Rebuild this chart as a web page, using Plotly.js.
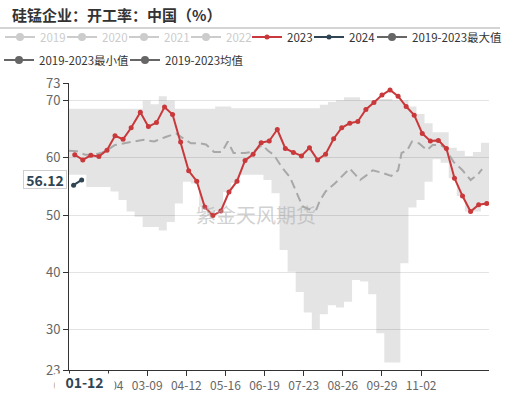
<!DOCTYPE html>
<html>
<head>
<meta charset="utf-8">
<script src="https://cdn.plot.ly/plotly-3.0.1.min.js"></script>
<style>html,body{margin:0;padding:0;background:#fff;}#chart{width:516px;height:395px;}</style>
</head>
<body>
<div id="chart"></div>
<script>
// ---- data ----
const tickLabels = ['01-01','02-04','03-09','04-12','05-16','06-19','07-23','08-26','09-29','11-02'];
const hiddenYears = ['2019','2020','2021','2022'];

const dates2023 = ['01-06','01-13','01-20','01-27','02-03','02-10','02-17','02-24','03-03','03-10','03-17','03-24','03-31',
  '04-07','04-14','04-21','04-28','05-05','05-12','05-19','05-26','06-02','06-09','06-16','06-23','06-30',
  '07-07','07-14','07-21','07-28','08-04','08-11','08-18','08-25','09-01','09-08','09-15','09-22','09-29',
  '10-06','10-13','10-20','10-27','11-03','11-10','11-17','11-24','12-01','12-08','12-15','12-22','12-29'];
const vals2023 = [60.5,59.6,60.4,60.2,61.3,63.8,63.2,65.2,67.9,65.4,66.1,68.8,67.5,62.7,57.7,55.9,51.4,49.9,50.7,54.0,
  55.9,59.5,60.6,62.6,62.9,64.9,61.6,60.9,60.3,61.7,59.6,60.6,63.3,65.2,66.0,66.3,68.4,69.6,70.9,71.8,
  70.7,68.9,67.4,64.2,62.9,63.0,61.6,56.4,53.3,50.6,51.8,52.0];

const dates2024 = ['01-05','01-12'];
const vals2024 = [55.2,56.12];

const bandDates = ['01-01','01-02','01-09','01-16','01-23','01-30','02-06','02-13','02-20','02-27','03-05','03-12','03-19','03-26',
  '04-02','04-09','04-16','04-23','04-30','05-07','05-14','05-21','05-28','06-04','06-11','06-18','06-25',
  '07-02','07-09','07-16','07-23','07-30','08-06','08-13','08-20','08-27','09-03','09-10','09-17','09-24',
  '10-01','10-08','10-15','10-22','10-29','11-05','11-12','11-19','11-26','12-03','12-10','12-17','12-24','12-31'];
const maxVals = [68.5,68.5,68.5,68.5,68.5,68.5,68.5,68.5,68.5,68.5,69.9,69.3,70.7,69.9,68.5,68.5,68.5,68.5,68.5,
  68.9,68.9,68.6,68.6,68.6,68.6,68.6,68.6,68.6,68.6,68.6,68.6,68.6,69.2,69.7,70.0,70.5,70.5,70.0,70.0,70.2,70.2,70.0,70.0,
  68.9,67.6,66.0,64.4,64.4,61.7,61.2,60.3,61.0,62.6,62.6];
const minVals = [57.0,57.0,57.0,54.9,54.9,54.9,54.1,52.6,50.6,49.7,47.9,47.9,47.3,48.8,52.0,55.8,55.5,51.4,49.9,50.7,
  54.0,55.6,57.0,57.0,57.0,56.1,53.8,43.9,40.1,36.6,33.0,30.1,32.7,34.3,33.9,34.9,38.7,38.4,36.2,29.4,24.3,24.3,
  41.6,51.3,52.6,55.8,59.7,59.1,56.4,53.3,50.6,50.6,51.8,51.8];

const meanDates = ['01-01','01-08','01-15','01-23','01-30','02-03','02-10','02-17','02-26','03-06','03-15','03-25','04-03',
  '04-09','04-16','04-23','04-29','05-06','05-13','05-18','05-23','06-02','06-09','06-17','06-22','06-27','07-04',
  '07-11','07-16','07-22','07-29','08-03','08-06','08-11','08-19','08-26','09-01','09-06','09-10','09-16','09-21',
  '09-30','10-07','10-13','10-16','10-21','10-25','10-31','11-07','11-12','11-19','11-23','11-30','12-08','12-15','12-21','12-25'];
const meanVals = [61.2,61.1,60.5,60.5,60.9,61.3,62.2,62.5,62.8,63.1,62.8,63.6,64.2,63.4,62.5,62.5,62.3,61.0,61.0,62.8,
  60.8,60.8,61.0,62.2,61.2,60.5,58.3,56.6,54.4,51.5,50.9,51.0,52.5,54.1,55.5,57.0,58.1,57.0,56.1,57.0,57.8,
  57.3,56.8,57.8,60.8,61.3,62.8,62.5,61.3,62.2,62.2,61.6,59.3,57.8,56.1,57.0,58.0];

const seriesNames = ['2023','2024','2019-2023最大值','2019-2023最小值','2019-2023均值'];

// ---- build ----
const toDate = s => '2024-' + s;
const FONT = '"Noto Sans CJK SC", "Noto Sans", sans-serif';
const hiddenLegends = ['legend4','legend7','legend8','legend5'];

const traces = [];
traces.push({x: bandDates.map(toDate), y: minVals, mode:'lines', line:{width:0, shape:'hv'}, showlegend:false, hoverinfo:'skip'});
traces.push({x: bandDates.map(toDate), y: maxVals, mode:'lines', line:{width:0, shape:'hv'}, fill:'tonexty',
  fillcolor:'rgba(0,0,0,0.105)', showlegend:false, hoverinfo:'skip'});
traces.push({x: meanDates.map(toDate), y: meanVals, mode:'lines', line:{color:'#a8a8a8', width:2, dash:'9px,5px'}, showlegend:false});
hiddenYears.forEach((yr, i) => traces.push({x:[null], y:[null], name:yr, mode:'lines+markers',
  legend: hiddenLegends[i], showlegend:true,
  line:{color:'#cccccc', width:2}, marker:{color:'#cccccc', size:8}}));
traces.push({x: dates2023.map(toDate), y: vals2023, name: seriesNames[0], mode:'lines+markers', legend:'legend', showlegend:true,
  line:{color:'#c9383a', width:2}, marker:{color:'#c9383a', size:5}});
traces.push({x: dates2024.map(toDate), y: vals2024, name: seriesNames[1], mode:'lines+markers', legend:'legend6', showlegend:true,
  line:{color:'#2f4554', width:2}, marker:{color:'#2f4554', size:5}});
traces.push({x:[null], y:[null], name: seriesNames[2], mode:'lines+markers', legend:'legend2', showlegend:true, line:{color:'#666', width:2}, marker:{color:'#666', size:8}});
traces.push({x:[null], y:[null], name: seriesNames[3], mode:'lines+markers', legend:'legend3', showlegend:true, line:{color:'#666', width:2}, marker:{color:'#666', size:8}});
traces.push({x:[null], y:[null], name: seriesNames[4], mode:'lines+markers', legend:'legend3', showlegend:true, line:{color:'#666', width:2}, marker:{color:'#666', size:8}});

const L = 69, R = 27, T = 83, B = 25, W = 516, H = 395;
const pw = W - L - R, ph = H - T - B;
const px = v => (v - L) / pw;
const py = v => (H - B - v) / ph;

const legBase = {orientation:'h', xanchor:'left', yanchor:'middle', bgcolor:'rgba(0,0,0,0)', borderwidth:0,
  itemwidth:30, traceorder:'normal', font:{family:FONT, size:11.5, color:'#333'}};
const fadedFont = {family:FONT, size:11.5, color:'#cccccc'};

const layout = {
  width: W, height: H,
  showlegend: true,
  margin:{l:L, r:R, t:T, b:B, pad:0, autoexpand:false},
  paper_bgcolor:'#fff', plot_bgcolor:'#fff',
  font:{family:FONT, size:12, color:'#666'},
  title:{text:'硅锰企业：开工率：中国（%）', x:12/W, xanchor:'left', y:1-16/H, yanchor:'middle',
    font:{family:FONT, size:15, color:'#333', weight:'bold'}},
  xaxis:{type:'date', range:[toDate('01-01'), toDate('12-31')], tickmode:'array',
    tickvals: tickLabels.map(toDate), ticktext: tickLabels,
    ticks:'outside', ticklen:5, tickcolor:'#333', showline:true, linecolor:'#333', linewidth:1,
    showgrid:false, zeroline:false, tickfont:{family:FONT, size:12, color:'#666'}, fixedrange:true},
  yaxis:{range:[23,73], tickmode:'array', tickvals:[23,30,40,50,60,70,73],
    ticks:'outside', ticklen:5, tickcolor:'#333', showline:true, linecolor:'#333', linewidth:1,
    gridcolor:'#e3e3e3', zeroline:false, tickfont:{family:FONT, size:13, color:'#666'}, fixedrange:true},
  legend4: Object.assign({}, legBase, {x: px(0), y: py(37), font:fadedFont}),
  legend7: Object.assign({}, legBase, {x: px(62), y: py(37), font:fadedFont}),
  legend8: Object.assign({}, legBase, {x: px(124), y: py(37), font:fadedFont}),
  legend5: Object.assign({}, legBase, {x: px(186), y: py(37), font:fadedFont}),
  legend: Object.assign({}, legBase, {x: px(247), y: py(37)}),
  legend6: Object.assign({}, legBase, {x: px(309), y: py(37)}),
  legend2: Object.assign({}, legBase, {x: px(372), y: py(37)}),
  legend3: Object.assign({}, legBase, {x: px(-1), y: py(60), entrywidth:81, entrywidthmode:'pixels'}),
  shapes:[{type:'line', xref:'paper', yref:'paper', x0:px(0), x1:px(500), y0:py(28), y1:py(28),
    line:{color:'#aaaaaa', width:1}}],
  annotations:[
    {text:'紫金天风期货', xref:'paper', yref:'paper', x:px(256), y:py(214), showarrow:false,
      font:{family:FONT, size:20, color:'rgba(170,170,170,0.55)'}},
    {text:'<b>01-12</b>', xref:'paper', yref:'paper', x:px(54), xanchor:'left', y:py(381.5), yanchor:'middle', showarrow:false,
      width:57, height:14, align:'center', bgcolor:'#fff', font:{family:FONT, size:14, color:'#2f4554'}},
    {text:'<b>56.12</b>', xref:'paper', yref:'y', x:px(67), xanchor:'right', y:56.12, yanchor:'middle', showarrow:false,
      width:40, height:15, bgcolor:'#fff', bordercolor:'#cfcfcf', borderwidth:1, borderpad:1,
      font:{family:FONT, size:14, color:'#2f4554'}}
  ],
  hovermode:false
};

Plotly.newPlot('chart', traces, layout, {staticPlot:true, displayModeBar:false});
</script>
</body>
</html>
